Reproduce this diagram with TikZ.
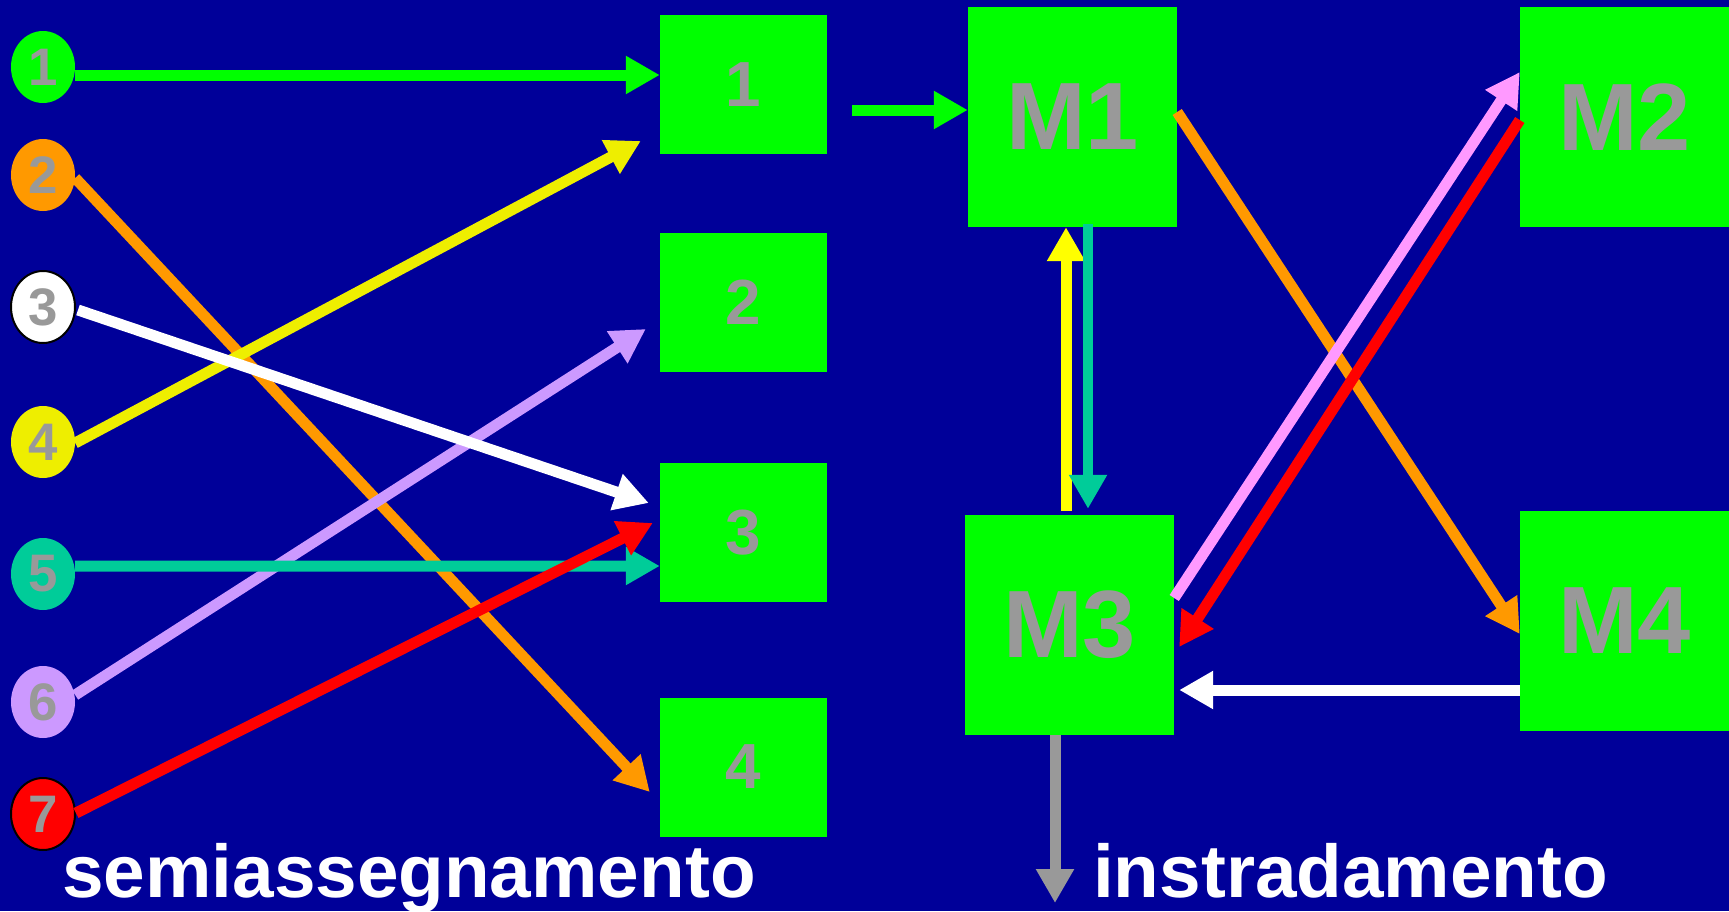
\documentclass[tikz,border=0pt]{standalone}
\usepackage{fontspec}
\setmainfont{Liberation Sans}
\usetikzlibrary{arrows.meta,shapes.geometric,calc}
\definecolor{bgblue}{HTML}{000099}
\definecolor{boxgreen}{HTML}{00FF00}
\definecolor{txtgray}{HTML}{999999}
\definecolor{orangec}{HTML}{FF9900}
\definecolor{yellowc}{HTML}{EEEE00}
\definecolor{yellowb}{HTML}{FFFF00}
\definecolor{tealc}{HTML}{00CC99}
\definecolor{lavc}{HTML}{CC99FF}
\definecolor{pinkc}{HTML}{FF99FF}
\definecolor{redc}{HTML}{FF0000}
\begin{document}
\begin{tikzpicture}[x=1bp,y=-1bp,
  conn/.style={line width=11bp, -{Triangle[length=34bp,width=36bp]}},
  src/.style={ellipse, minimum width=64bp, minimum height=72bp, inner sep=0pt,
    text=txtgray, font=\fontsize{53}{53}\selectfont\bfseries},
  box/.style={rectangle, fill=boxgreen, inner sep=0pt, minimum width=167bp,
    minimum height=139bp, text=txtgray, font=\fontsize{64}{64}\selectfont\bfseries},
  mbox/.style={rectangle, fill=boxgreen, inner sep=0pt, minimum width=209bp,
    minimum height=220bp, text=txtgray, font=\fontsize{96}{96}\selectfont\bfseries},
  caption/.style={anchor=base west, inner sep=0pt, text=white,
    font=\fontsize{75}{75}\selectfont\bfseries}
]
\useasboundingbox[fill=bgblue] (0,0) rectangle (1729,911);

% sources
\node[src, fill=boxgreen] (c1) at (43,67) {1};
\node[src, fill=orangec] (c2) at (43,175) {2};
\node[src, fill=white, draw=black, line width=2bp] (c3) at (43,307) {3};
\node[src, fill=yellowc] (c4) at (43,442) {4};
\node[src, fill=tealc] (c5) at (43,574) {5};
\node[src, fill=lavc] (c6) at (43,702) {6};
\node[src, fill=redc, draw=black, line width=2bp] (c7) at (43,814) {7};

% boxes
\node[box] (b1) at (743.5,84.5) {1};
\node[box] (b2) at (743.5,302.5) {2};
\node[box] (b3) at (743.5,532.5) {3};
\node[box] (b4) at (743.5,767) {4};

\node[mbox] (m1) at (1072.5,117) {M1};
\node[mbox] (m2) at (1624.5,117) {M2};
\node[mbox] (m3) at (1069.5,625) {M3};
\node[mbox] (m4) at (1624.5,621) {M4};

\coordinate (in1) at (852,110);
\coordinate (out3) at (1055,903);

% left connectors
\draw[conn, draw=boxgreen, fill=boxgreen] ($(c1.east)+(0,8)$) -- ($(b1.west)+(0,-9.5)$);
\draw[conn, draw=orangec, fill=orangec] ($(c2.east)+(0,3)$) -- ($(b4.west)+(-10,25)$);
\draw[conn, draw=lavc, fill=lavc] ($(c6.east)+(0,-7)$) -- ($(b2.west)+(-14,26.5)$);
\draw[conn, draw=yellowc, fill=yellowc] ($(c4.east)+(0,1)$) -- ($(b1.west)+(-19,56.5)$);
\draw[conn, draw=white, fill=white] ($(c3.east)+(2,3)$) -- ($(b3.west)+(-11,-29.5)$);
\draw[conn, draw=tealc, fill=tealc] ($(c5.east)+(0,-8)$) -- ($(b3.west)+(0,33.5)$);
\draw[conn, draw=redc, fill=redc] ($(c7.east)+(0,-1)$) -- ($(b3.west)+(-7,-9.5)$);

% right connectors
\draw[conn, draw=boxgreen, fill=boxgreen] (in1) -- ($(m1.west)+(0,-7)$);
\draw[conn, draw=orangec, fill=orangec] ($(m1.east)+(0,-5)$) -- ($(m4.west)+(0,13)$);
\draw[conn, draw=pinkc, fill=pinkc] ($(m3.east)+(0,-27)$) -- ($(m2.west)+(0,-45)$);
\draw[conn, draw=redc, fill=redc] ($(m2.west)+(0,3)$) -- ($(m3.east)+(5,22)$);
\draw[conn, draw=yellowb, fill=yellowb] ($(m3.north)+(-3.5,-4)$) -- ($(m1.south)+(-6.5,0)$);
\draw[conn, draw=tealc, fill=tealc, line width=10bp] ($(m1.south)+(15.5,-3)$) -- ($(m3.north)+(18.5,-6)$);
\draw[conn, draw=white, fill=white] ($(m4.west)+(0,69)$) -- ($(m3.east)+(5,65)$);
\draw[conn, draw=txtgray, fill=txtgray] ($(m3.south)+(-14.5,0)$) -- (out3);

% captions
\node[caption] (t1) at (62,897) {semiassegnamento};
\node[caption] (t2) at (1093,897) {instradamento};
\end{tikzpicture}
\end{document}
